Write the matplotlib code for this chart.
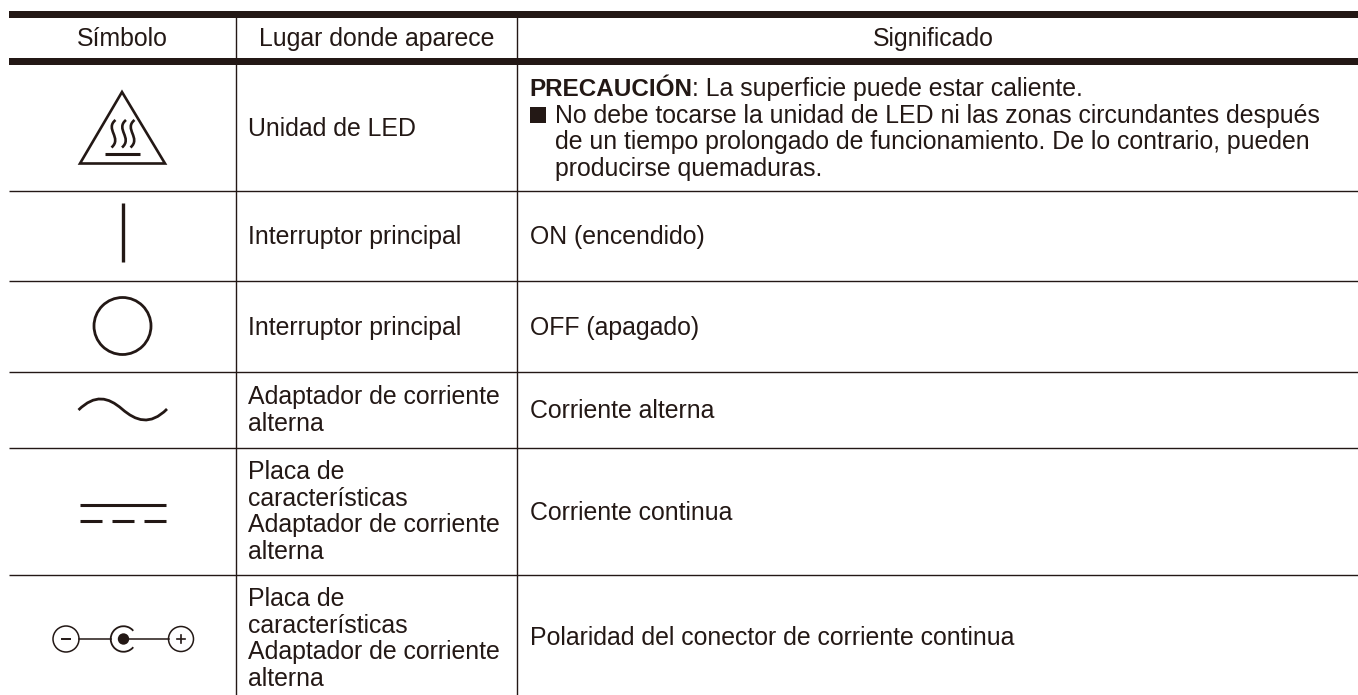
#!/usr/bin/env python
# encoding: utf-8

import matplotlib
matplotlib.use('Agg')
import matplotlib.pyplot as plt
from matplotlib.patches import Circle, Arc, PathPatch, Rectangle
from matplotlib.path import Path

INK = '#231815'
FS = 17.9

headers = ['Símbolo', 'Lugar donde aparece', 'Significado']
places = [
    ['Unidad de LED'],
    ['Interruptor principal'],
    ['Interruptor principal'],
    ['Adaptador de corriente', 'alterna'],
    ['Placa de', 'características', 'Adaptador de corriente', 'alterna'],
    ['Placa de', 'características', 'Adaptador de corriente', 'alterna'],
]
place_baselines = [136, 244, 335, 404, 479, 606]
meanings = ['ON (encendido)', 'OFF (apagado)', 'Corriente alterna',
            'Corriente continua', 'Polaridad del conector de corriente continua']
meaning_baselines = [244, 335, 418, 520, 645]
warning_head = 'PRECAUCIÓN'
warning_tail = ': La superficie puede estar caliente.'
warning_lines = [
    'No debe tocarse la unidad de LED ni las zonas circundantes después',
    'de un tiempo prolongado de funcionamiento. De lo contrario, pueden',
    'producirse quemaduras.',
]
row_lines = [191, 281, 372, 448, 575]

plt.rcParams['font.family'] = ['Liberation Sans', 'DejaVu Sans']

fig = plt.figure(figsize=(13.58, 6.95), dpi=100)
ax = fig.add_axes([0, 0, 1, 1])
ax.set_xlim(0, 1358)
ax.set_ylim(695, 0)
ax.axis('off')

LEFT, RIGHT = 9, 1358
COL1, COL2 = 236, 517


def put(x, y, s, **kw):
    kw.setdefault('fontsize', FS)
    return ax.text(x, y, s, color=INK, va='baseline', **kw)


# table rules
ax.add_patch(Rectangle((LEFT, 11), RIGHT - LEFT, 6.5, color=INK, lw=0))
ax.add_patch(Rectangle((LEFT, 58), RIGHT - LEFT, 6.5, color=INK, lw=0))
for y in row_lines:
    ax.plot([LEFT, RIGHT], [y, y], color=INK, lw=1.0, solid_capstyle='butt')
for x in (COL1, COL2):
    ax.plot([x, x], [11, 695], color=INK, lw=1.0, solid_capstyle='butt')

# headers
put(122.5, 46, headers[0], ha='center')
put(376.5, 46, headers[1], ha='center')
put(933, 46, headers[2], ha='center')

# second column
for lines, y0 in zip(places, place_baselines):
    for i, line in enumerate(lines):
        put(248, y0 + i * 26.6, line)

# third column
t = put(529, 96, warning_head, fontweight='bold', fontsize=17.5)
fig.canvas.draw()
bb = t.get_window_extent()
put(bb.x1, 96, warning_tail)
ax.add_patch(Rectangle((529.5, 107), 16.5, 16, color=INK, lw=0))
for i, line in enumerate(warning_lines):
    put(555, 122.7 + i * 26.6, line)
for s, y in zip(meanings, meaning_baselines):
    put(530, y, s)

# hot surface symbol
ax.add_patch(plt.Polygon([(122, 92), (80, 163.5), (165, 163.5)], closed=True,
                         fill=False, ec=INK, lw=1.9, joinstyle='miter'))
ax.plot([105, 140], [154, 154], color=INK, lw=2.2, solid_capstyle='butt')
for x0 in (113.5, 124, 132.5):
    wave = Path([(x0 + 2, 120), (x0 - 9, 129), (x0 + 9, 138), (x0 - 2, 147.5)],
                [Path.MOVETO, Path.CURVE4, Path.CURVE4, Path.CURVE4])
    ax.add_patch(PathPatch(wave, fill=False, ec=INK, lw=1.9))

# on / off
ax.plot([122.5, 122.5], [203, 262], color=INK, lw=2.4, solid_capstyle='butt')
ax.add_patch(Circle((122.5, 326), 28.5, fill=False, ec=INK, lw=2.0))

# alternating current
sine = Path([(78.5, 410), (95, 394), (108, 397), (122, 409),
             (136, 421), (150, 426), (167, 409)],
            [Path.MOVETO] + [Path.CURVE4] * 6)
ax.add_patch(PathPatch(sine, fill=False, ec=INK, lw=2.0))

# direct current
ax.plot([80, 166], [505, 505], color=INK, lw=2.2, solid_capstyle='butt')
for x0, x1 in [(80, 102), (112, 134), (144, 166)]:
    ax.plot([x0, x1], [521, 521], color=INK, lw=2.2, solid_capstyle='butt')

# connector polarity
ax.add_patch(Circle((66, 639), 13, fill=False, ec=INK, lw=1.1))
ax.add_patch(Circle((181, 639), 12.5, fill=False, ec=INK, lw=1.1))
ax.add_patch(Arc((123.5, 639), 25.5, 25.5, theta1=40, theta2=320, ec=INK, lw=1.3))
ax.add_patch(Circle((123.5, 639), 5.7, fc=INK, ec=INK, lw=0))
ax.plot([79, 111], [639, 639], color=INK, lw=1.1)
ax.plot([124, 168.5], [639, 639], color=INK, lw=1.1)
ax.plot([62, 70], [639, 639], color=INK, lw=1.4)
ax.plot([177, 185], [639, 639], color=INK, lw=1.2)
ax.plot([181, 181], [635, 643], color=INK, lw=1.2)

fig.savefig('out.png', dpi=100)
